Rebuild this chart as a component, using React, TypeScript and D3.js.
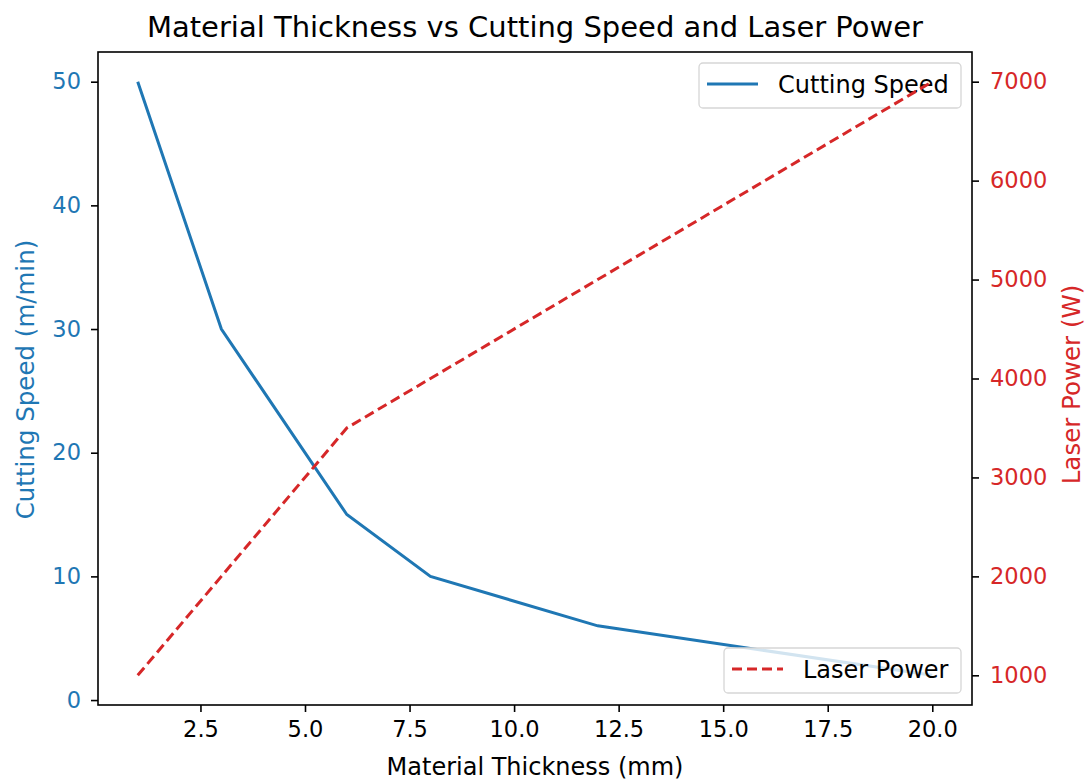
import { useEffect, useRef } from "react";
import * as d3 from "d3";

const thickness = [1, 3, 6, 8, 12, 20];
const cuttingSpeed = [50, 30, 15, 10, 6, 2];
const laserPower = [1000, 2000, 3500, 4000, 5000, 7000];
const xTicks = [2.5, 5.0, 7.5, 10.0, 12.5, 15.0, 17.5, 20.0];
const speedTicks = [0, 10, 20, 30, 40, 50];
const powerTicks = [1000, 2000, 3000, 4000, 5000, 6000, 7000];

const BLUE = "#1f77b4";
const RED = "#d62728";
const FONT = "DejaVu Sans, sans-serif";

export default function App() {
  const ref = useRef<SVGSVGElement>(null);

  useEffect(() => {
    const width = 1087;
    const height = 783;
    const m = { top: 52, right: 115, bottom: 78, left: 98 };
    const innerW = width - m.left - m.right;
    const innerH = height - m.top - m.bottom;

    const svg = d3.select(ref.current);
    svg.selectAll("*").remove();
    svg.attr("width", width).attr("height", height);
    svg.append("rect").attr("width", width).attr("height", height).attr("fill", "white");

    const pad = (lo: number, hi: number) => {
      const d = (hi - lo) * 0.05;
      return [lo - d, hi + d];
    };

    const x = d3.scaleLinear().domain(pad(1, 20)).range([0, innerW]);
    const yL = d3.scaleLinear().domain(pad(2, 50)).range([innerH, 0]);
    const yR = d3.scaleLinear().domain(pad(1000, 7000)).range([innerH, 0]);

    const g = svg.append("g").attr("transform", `translate(${m.left},${m.top})`);

    const xAxis = g
      .append("g")
      .attr("transform", `translate(0,${innerH})`)
      .call(d3.axisBottom(x).tickValues(xTicks).tickFormat(d3.format(".1f")).tickSize(7).tickPadding(9));
    xAxis.selectAll("text").attr("fill", "#000");

    const lAxis = g
      .append("g")
      .call(d3.axisLeft(yL).tickValues(speedTicks).tickFormat(d3.format("d")).tickSize(7).tickPadding(10));
    lAxis.selectAll("text").attr("fill", BLUE);

    const rAxis = g
      .append("g")
      .attr("transform", `translate(${innerW},0)`)
      .call(d3.axisRight(yR).tickValues(powerTicks).tickFormat(d3.format("d")).tickSize(7).tickPadding(11));
    rAxis.selectAll("text").attr("fill", RED);

    [xAxis, lAxis, rAxis].forEach((a) => {
      a.select(".domain").remove();
      a.attr("font-size", null).attr("font-family", null);
      a.selectAll("line").attr("stroke", "#000").attr("stroke-width", 1.6);
      a.selectAll("text").style("font-size", "22.5px").style("font-family", FONT);
    });

    g.append("rect")
      .attr("width", innerW)
      .attr("height", innerH)
      .attr("fill", "none")
      .attr("stroke", "#000")
      .attr("stroke-width", 1.6);

    const idx = d3.range(thickness.length);

    const speedLine = d3
      .line<number>()
      .x((i) => x(thickness[i]))
      .y((i) => yL(cuttingSpeed[i]));
    const powerLine = d3
      .line<number>()
      .x((i) => x(thickness[i]))
      .y((i) => yR(laserPower[i]));

    g.append("path")
      .datum(idx)
      .attr("d", speedLine)
      .attr("fill", "none")
      .attr("stroke", BLUE)
      .attr("stroke-width", 3);

    const legend = (lx: number, ly: number, w: number, label: string, color: string, dash: string | null) => {
      const lg = g.append("g").attr("transform", `translate(${lx},${ly})`);
      lg.append("rect")
        .attr("width", w)
        .attr("height", 45)
        .attr("rx", 4)
        .attr("fill", "white")
        .attr("fill-opacity", 0.8)
        .attr("stroke", "#d6d6d6")
        .attr("stroke-width", 1.3);
      lg.append("line")
        .attr("x1", 8)
        .attr("x2", 59)
        .attr("y1", 21)
        .attr("y2", 21)
        .attr("stroke", color)
        .attr("stroke-width", 3)
        .attr("stroke-dasharray", dash);
      lg.append("text")
        .attr("x", 79)
        .attr("y", 22)
        .attr("dy", "0.35em")
        .attr("fill", "#000")
        .style("font-size", "24px")
        .style("font-family", FONT)
        .text(label);
    };

    legend(601, 11, 262, "Cutting Speed", BLUE, null);

    g.append("path")
      .datum(idx)
      .attr("d", powerLine)
      .attr("fill", "none")
      .attr("stroke", RED)
      .attr("stroke-width", 3)
      .attr("stroke-dasharray", "10,5");

    legend(626, 596, 237, "Laser Power", RED, "10,5");

    svg.append("text")
      .attr("x", m.left + innerW / 2)
      .attr("y", 37)
      .attr("text-anchor", "middle")
      .attr("fill", "#000")
      .style("font-size", "29px")
      .style("font-family", FONT)
      .text("Material Thickness vs Cutting Speed and Laser Power");

    svg.append("text")
      .attr("x", m.left + innerW / 2)
      .attr("y", 775)
      .attr("text-anchor", "middle")
      .attr("fill", "#000")
      .style("font-size", "24px")
      .style("font-family", FONT)
      .text("Material Thickness (mm)");

    svg.append("text")
      .attr("transform", `translate(34,${m.top + innerH / 2 + 1}) rotate(-90)`)
      .attr("text-anchor", "middle")
      .attr("fill", BLUE)
      .style("font-size", "24.5px")
      .style("font-family", FONT)
      .text("Cutting Speed (m/min)");

    svg.append("text")
      .attr("transform", `translate(1080,${m.top + innerH / 2 + 6}) rotate(-90)`)
      .attr("text-anchor", "middle")
      .attr("fill", RED)
      .style("font-size", "24.5px")
      .style("font-family", FONT)
      .text("Laser Power (W)");
  }, []);

  return <svg ref={ref} style={{ display: "block", position: "absolute", top: 0, left: 0 }} />;
}
